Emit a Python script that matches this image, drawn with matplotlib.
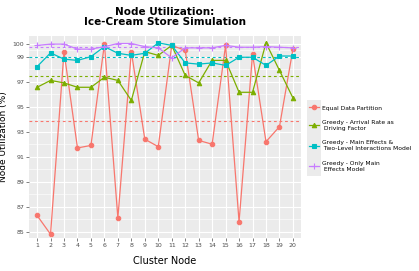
import matplotlib
matplotlib.use("Agg")
import matplotlib.pyplot as plt
from matplotlib.patches import Rectangle
import numpy as np

# cluster nodes and utilisation (%) per strategy
nodes = list(range(1, 21))
equalPartition = [86.3, 84.8, 99.4, 91.7, 91.9, 100.0, 86.1, 99.4, 92.4, 91.8,
                  99.9, 99.5, 92.3, 92.0, 99.9, 85.8, 99.2, 92.2, 93.4, 99.6]
arrivalRate = [96.55, 97.1, 96.9, 96.55, 96.55, 97.35, 97.1, 95.5, 99.4, 99.1,
               99.9, 97.5, 96.9, 98.7, 98.7, 96.15, 96.15, 100.1, 97.9, 95.7]
mainAndInteractions = [98.2, 99.3, 98.8, 98.7, 99.0, 99.8, 99.27, 99.1, 99.27, 100.1,
                       99.9, 98.5, 98.4, 98.5, 98.3, 98.95, 98.95, 98.3, 99.05, 99.05]
onlyMain = [99.9, 100.0, 100.0, 99.6, 99.6, 99.8, 100.05, 100.05, 99.8, 99.7,
            98.9, 99.7, 99.7, 99.7, 99.9, 99.75, 99.75, 99.8, 99.75, 99.7]

seriesLabels = ["Equal Data Partition",
                "Greedy - Arrival Rate as\n Driving Factor",
                "Greedy - Main Effects &\n Two-Level Interactions Model",
                "Greedy - Only Main\n Effects Model"]
yTicks = [85, 87, 89, 91, 93, 95, 97, 99, 100]

colors = ["#F8766D", "#7CAE00", "#00BFC4", "#C77CFF"]
markers = ["o", "^", "s", "+"]

fig = plt.figure(figsize=(4.19, 2.71), dpi=100)
ax = fig.add_axes([29 / 419, 33 / 271, 272 / 419, 202 / 271])
ax.set_facecolor("#EBEBEB")

# ggplot-like grid: major + minor lines
for t in yTicks:
    ax.axhline(t, color="white", lw=0.8, zorder=0)
for t in [86, 88, 90, 92, 94, 96, 98, 99.5]:
    ax.axhline(t, color="white", lw=0.4, zorder=0)
for t in nodes:
    ax.axvline(t, color="white", lw=0.8, zorder=0)

handles = []
allSeries = [equalPartition, arrivalRate, mainAndInteractions, onlyMain]
for vals, col, mk, lab in zip(allSeries, colors, markers, seriesLabels):
    h, = ax.plot(nodes, vals, color=col, marker=mk, ms=3.2 if mk != "+" else 4.5,
                 mew=0.8, lw=0.9, label=lab, zorder=3)
    ax.axhline(np.mean(vals), color=col, lw=0.8, ls=(0, (2.5, 2.5)), zorder=2)
    handles.append(h)

ax.set_xlim(0.4, 20.6)
ax.set_ylim(84.5, 100.65)
ax.set_xticks(nodes)
ax.set_yticks(yTicks)
ax.tick_params(axis="both", labelsize=4.5, colors="#4D4D4D", length=2, width=0.5, pad=1.5)
for s in ax.spines.values():
    s.set_visible(False)

ax.set_xlabel("Cluster Node", fontsize=7, labelpad=6)
ax.set_ylabel("Node Utilization (%)", fontsize=6.5, labelpad=3)
ax.set_title("Node Utilization:\nIce-Cream Store Simulation", fontsize=7.5,
             fontweight="bold", pad=8, linespacing=1.0)

# grey key column like ggplot legend keys
fig.patches.append(Rectangle((307 / 419, 1 - 176 / 271), 14 / 419, 76 / 271,
                             transform=fig.transFigure, facecolor="#EBEBEB",
                             edgecolor="none", zorder=0))

leg = fig.legend(handles=handles, loc="upper left", bbox_to_anchor=(304 / 419, 1 - 100 / 271),
                 fontsize=4.3, frameon=False, handlelength=1.6, handletextpad=0.5,
                 labelspacing=1.6)

fig.savefig("out.png", dpi=100)
